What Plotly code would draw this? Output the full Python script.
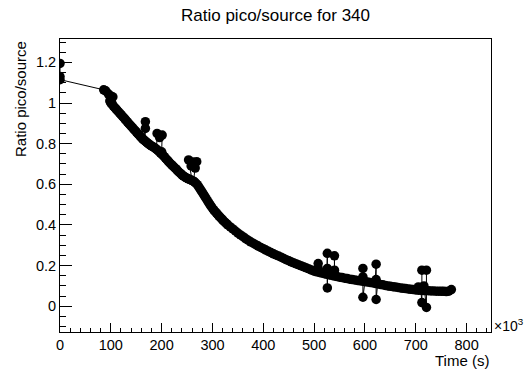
import plotly.graph_objects as go

# Ratio pico/source vs. time, listed in acquisition order.
# Time in units of 10^3 s (the axis carries the x10^3 multiplier).
time_ks = [
    0, 0, 0,
    86, 90, 95, 100, 104, 98, 102,
    100, 102.5, 105, 107.5, 110, 112.5, 115, 117.5, 120, 122.5, 125, 127.5,
    130, 132.5, 135, 137.5, 140, 142.5, 145, 147.5, 150, 152.5, 155, 157.5,
    160, 162.5, 165,
    168, 168,
    167.5, 170, 172.5, 175, 177.5, 180, 182.5, 185, 187.5, 190,
    191, 196, 201, 200,
    192.5, 195, 197.5, 200, 202.5, 205, 207.5, 210, 212.5, 215, 217.5, 220,
    222.5, 225, 227.5, 230, 232.5, 235, 237.5, 240, 242.5, 245, 247.5, 250,
    252.5, 255, 257.5, 260,
    253, 258, 262, 269, 266,
    262.5, 265, 267.5, 270, 272.5, 275, 277.5, 280, 282.5, 285, 287.5, 290,
    292.5, 295, 297.5, 300, 302.5, 305, 307.5, 310, 312.5, 315, 317.5, 320,
    322.5, 325, 327.5, 330, 335,
    340, 345, 350, 355, 360, 365, 370, 375, 380, 385, 390, 395, 400, 405,
    410, 415, 420, 425, 430, 435, 440, 445, 450, 455, 460, 465, 470, 475,
    480, 485, 490, 495, 500, 505,
    508, 508,
    510, 515, 520, 525,
    526, 526, 526,
    530, 535, 540,
    540, 540,
    545, 550, 555, 560, 565, 570, 575, 580, 585, 590, 595,
    596, 596, 596,
    600, 605, 610, 615, 620,
    622, 622, 622,
    625, 630, 635, 640, 645, 650, 655, 660, 665, 670, 675, 680, 685, 690,
    695, 700, 705,
    705,
    710,
    712, 712, 721, 721, 716,
    715, 720, 725, 730, 735, 740, 745, 750, 755, 760, 765, 770,
]
ratio = [
    1.195, 1.13, 1.115,
    1.065, 1.06, 1.045, 1.035, 1.03, 1.01, 1.0,
    1.0, 0.993, 0.985, 0.978, 0.971, 0.964, 0.957, 0.95, 0.943, 0.936, 0.929, 0.922,
    0.915, 0.907, 0.9, 0.893, 0.886, 0.879, 0.872, 0.865, 0.858, 0.851, 0.844, 0.837,
    0.83, 0.824, 0.819,
    0.908, 0.875,
    0.813, 0.808, 0.803, 0.798, 0.793, 0.789, 0.785, 0.781, 0.777, 0.772,
    0.85, 0.83, 0.842, 0.76,
    0.767, 0.761, 0.755, 0.749, 0.743, 0.736, 0.729, 0.722, 0.715, 0.708, 0.701, 0.695,
    0.689, 0.683, 0.677, 0.671, 0.664, 0.658, 0.652, 0.646, 0.641, 0.637, 0.633, 0.63,
    0.627, 0.624, 0.621, 0.618,
    0.72, 0.69, 0.71, 0.711, 0.68,
    0.615, 0.611, 0.605, 0.598, 0.589, 0.58, 0.57, 0.56, 0.55, 0.54, 0.53, 0.52,
    0.51, 0.5, 0.491, 0.482, 0.474, 0.466, 0.459, 0.452, 0.445, 0.438, 0.431, 0.425,
    0.418, 0.412, 0.406, 0.4, 0.39,
    0.38, 0.37, 0.36, 0.351, 0.342, 0.333, 0.325, 0.317, 0.31, 0.303, 0.296, 0.289, 0.283, 0.276,
    0.27, 0.264, 0.258, 0.252, 0.247, 0.241, 0.235, 0.229, 0.224, 0.218, 0.213, 0.208, 0.203, 0.198,
    0.193, 0.188, 0.183, 0.178, 0.173, 0.169,
    0.21, 0.186,
    0.166, 0.163, 0.16, 0.157,
    0.26, 0.09, 0.186,
    0.154, 0.151, 0.148,
    0.248, 0.177,
    0.146, 0.143, 0.141, 0.138, 0.136, 0.133, 0.131, 0.129, 0.127, 0.125, 0.123,
    0.186, 0.144, 0.044,
    0.121, 0.119, 0.117, 0.115, 0.112,
    0.207, 0.131, 0.033,
    0.11, 0.107, 0.105, 0.102, 0.1, 0.098, 0.096, 0.094, 0.092, 0.09, 0.088, 0.087, 0.085, 0.083,
    0.082, 0.08, 0.079,
    0.095,
    0.078,
    0.018, 0.177, 0.177, -0.006, 0.1,
    0.077, 0.076, 0.076, 0.075, 0.075, 0.074, 0.074, 0.073, 0.073, 0.072, 0.074, 0.082,
]

FONT = "Liberation Sans, Arial, sans-serif"

fig = go.Figure()
fig.add_trace(go.Scatter(
    x=time_ks, y=ratio,
    mode="lines+markers",
    line=dict(color="black", width=1),
    marker=dict(symbol="circle", size=9.5, color="black"),
    showlegend=False,
))

axis_common = dict(
    showline=True, linecolor="black", linewidth=1, mirror=True,
    showgrid=False, zeroline=False,
    ticks="inside", tickcolor="black", tickwidth=1,
    tickfont=dict(family=FONT, size=14.5, color="black"),
)

fig.update_xaxes(
    **axis_common,
    range=[0, 848],
    tickmode="linear", tick0=0, dtick=100,
    ticklen=9,
    minor=dict(tickmode="linear", tick0=0, dtick=20, ticks="inside",
               ticklen=4, tickcolor="black", tickwidth=1, showgrid=False),
)
fig.update_yaxes(
    **axis_common,
    range=[-0.127, 1.315],
    tickmode="linear", tick0=0, dtick=0.2,
    ticklen=12,
    minor=dict(tickmode="linear", tick0=0, dtick=0.05, ticks="inside",
               ticklen=6, tickcolor="black", tickwidth=1, showgrid=False),
)

fig.update_layout(
    width=530, height=372, autosize=False,
    margin=dict(l=60, r=39, t=39, b=40),
    paper_bgcolor="white", plot_bgcolor="white",
    font=dict(family=FONT, color="black"),
    annotations=[
        dict(text="Ratio pico/source for 340", xref="paper", yref="paper",
             x=0.5, y=1.0, yshift=24, xanchor="center", yanchor="middle",
             showarrow=False, font=dict(family=FONT, size=17)),
        dict(text="Ratio pico/source", xref="paper", yref="paper",
             x=0, y=1.0, xshift=-40, xanchor="center", yanchor="top",
             textangle=-90, showarrow=False, font=dict(family=FONT, size=15)),
        dict(text="Time (s)", xref="paper", yref="paper",
             x=1.0, y=0, yshift=-28, xanchor="right", yanchor="middle",
             showarrow=False, font=dict(family=FONT, size=15)),
        dict(text="\u00d710<sup>3</sup>", xref="paper", yref="paper",
             x=1.0, y=0, xshift=1, yshift=7, xanchor="left", yanchor="middle",
             showarrow=False, font=dict(family=FONT, size=14)),
    ],
)

fig.write_html("out.html")
